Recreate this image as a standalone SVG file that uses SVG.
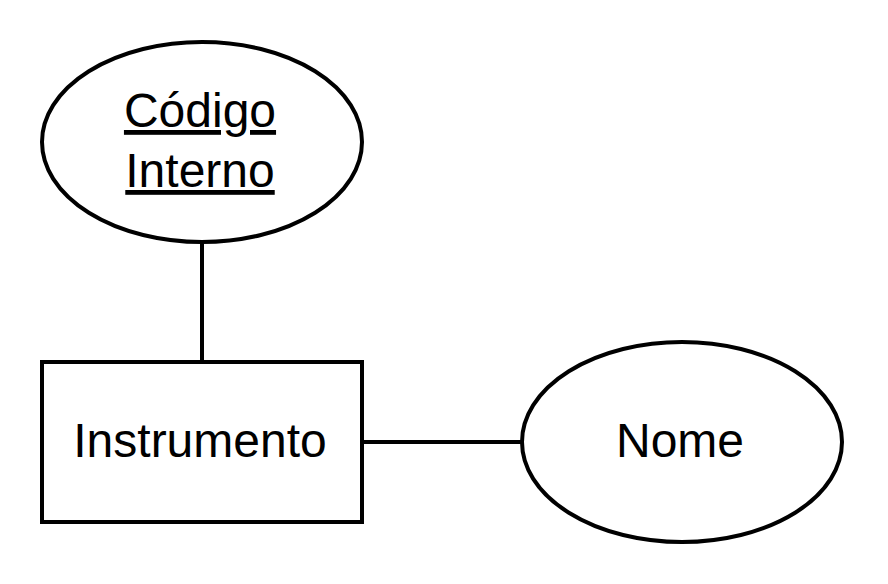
<svg xmlns="http://www.w3.org/2000/svg" width="888" height="584" viewBox="0 0 888 584">
<style>
.s{fill:#fff;stroke:#000;stroke-width:4}
.c{stroke:#000;stroke-width:4;fill:none}
text{font-family:"Liberation Sans",Arial,sans-serif;font-size:48px;fill:#000;text-anchor:middle}
</style>
<rect width="888" height="584" fill="#fff"/>
<g id="connectors">
<line class="c" x1="202" y1="242" x2="202" y2="362"/>
<line class="c" x1="362" y1="442" x2="522" y2="442"/>
</g>
<g id="codigo">
<ellipse class="s" cx="202" cy="142" rx="160" ry="100"/>
<text x="200" y="127" text-decoration="underline">Código</text>
<text x="200" y="187" text-decoration="underline">Interno</text>
</g>
<g id="instrumento">
<rect class="s" x="42" y="362" width="320" height="160"/>
<text x="200" y="457">Instrumento</text>
</g>
<g id="nome">
<ellipse class="s" cx="682" cy="442" rx="160" ry="100"/>
<text x="680" y="457">Nome</text>
</g>
</svg>
